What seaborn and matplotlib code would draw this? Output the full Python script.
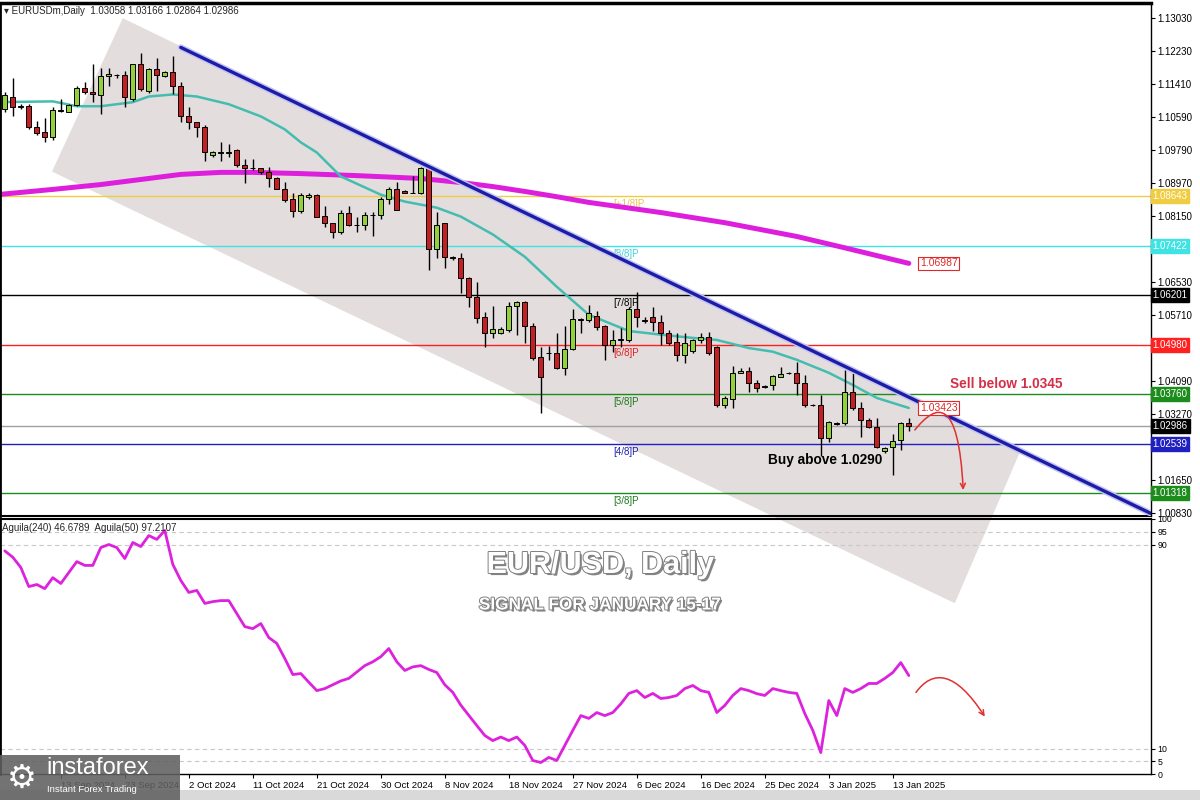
"""
EUR/USD daily chart: candles, Murrey Math levels, two moving averages,
a falling channel and the Aguila oscillator pane underneath.
"""
import matplotlib
matplotlib.use("Agg")
import matplotlib.pyplot as plt
import matplotlib.patheffects as pe
from matplotlib.patches import Polygon, Rectangle, FancyArrowPatch
from matplotlib.path import Path
import numpy as np
import seaborn as sns

# one candle per daily bar (broker has Sunday bars), last bar = 15 Jan 2025
opens = [1.1078, 1.1110, 1.1083, 1.1086, 1.1036, 1.1022, 1.1009, 1.1076, 1.1073, 1.1088,
         1.1130, 1.1122, 1.1113, 1.1160, 1.1163, 1.1162, 1.1105, 1.1189, 1.1123, 1.1177,
         1.1160, 1.1170, 1.1137, 1.1063, 1.1046, 1.1036, 1.0965, 1.0972, 1.0971, 1.0977,
         1.0942, 1.0935, 1.0933, 1.0923, 1.0910, 1.0883, 1.0858, 1.0827, 1.0862, 1.0868,
         1.0816, 1.0797, 1.0777, 1.0824, 1.0794, 1.0794, 1.0819, 1.0819, 1.0858, 1.0883,
         1.0878, 1.0873, 1.0873, 1.0935, 1.0733, 1.0797, 1.0715, 1.0713, 1.0663, 1.0616,
         1.0567, 1.0528, 1.0528, 1.0535, 1.0594, 1.0604, 1.0545, 1.0468, 1.0478, 1.0478,
         1.0441, 1.0488, 1.0561, 1.0560, 1.0570, 1.0545, 1.0498, 1.0510, 1.0510, 1.0587,
         1.0560, 1.0567, 1.0555, 1.0528, 1.0505, 1.0473, 1.0483, 1.0510, 1.0518, 1.0493,
         1.0350, 1.0365, 1.0429, 1.0434, 1.0404, 1.0396, 1.0399, 1.0419, 1.0429, 1.0429,
         1.0404, 1.0350, 1.0350, 1.0268, 1.0305, 1.0305, 1.0382, 1.0342, 1.0313, 1.0295,
         1.0236, 1.0246, 1.0263, 1.03058]
highs = [1.1120, 1.1156, 1.1091, 1.1091, 1.1049, 1.1056, 1.1083, 1.1103, 1.1091, 1.1135,
         1.1145, 1.1189, 1.1180, 1.1180, 1.1165, 1.1172, 1.1191, 1.1217, 1.1180, 1.1204,
         1.1172, 1.1209, 1.1145, 1.1083, 1.1048, 1.1039, 1.0975, 1.0997, 1.0994, 1.0980,
         1.0955, 1.0955, 1.0935, 1.0937, 1.0911, 1.0900, 1.0873, 1.0873, 1.0871, 1.0870,
         1.0839, 1.0798, 1.0831, 1.0839, 1.0812, 1.0826, 1.0826, 1.0863, 1.0886, 1.0900,
         1.0880, 1.0913, 1.0937, 1.0938, 1.0826, 1.0799, 1.0718, 1.0725, 1.0665, 1.0653,
         1.0579, 1.0594, 1.0542, 1.0604, 1.0606, 1.0606, 1.0552, 1.0493, 1.0495, 1.0528,
         1.0545, 1.0587, 1.0564, 1.0597, 1.0582, 1.0546, 1.0535, 1.0540, 1.0590, 1.0629,
         1.0567, 1.0592, 1.0572, 1.0535, 1.0528, 1.0528, 1.0512, 1.0528, 1.0530, 1.0495,
         1.0372, 1.0446, 1.0440, 1.0444, 1.0411, 1.0399, 1.0424, 1.0444, 1.0431, 1.0456,
         1.0424, 1.0352, 1.0374, 1.0309, 1.0307, 1.0436, 1.0431, 1.0357, 1.0318, 1.0318,
         1.0246, 1.0278, 1.0307, 1.03166]
lows = [1.1073, 1.1063, 1.1078, 1.1029, 1.1016, 1.0999, 1.1004, 1.1071, 1.1071, 1.1086,
        1.1115, 1.1096, 1.1066, 1.1135, 1.1156, 1.1083, 1.1098, 1.1123, 1.1118, 1.1123,
        1.1157, 1.1115, 1.1046, 1.1031, 1.1009, 1.0952, 1.0962, 1.0952, 1.0962, 1.0937,
        1.0898, 1.0930, 1.0920, 1.0888, 1.0881, 1.0851, 1.0812, 1.0824, 1.0858, 1.0812,
        1.0789, 1.0762, 1.0772, 1.0792, 1.0777, 1.0782, 1.0767, 1.0807, 1.0844, 1.0830,
        1.0871, 1.0871, 1.0869, 1.0683, 1.0713, 1.0688, 1.0708, 1.0626, 1.0592, 1.0552,
        1.0493, 1.0515, 1.0525, 1.0530, 1.0523, 1.0503, 1.0461, 1.0330, 1.0461, 1.0439,
        1.0424, 1.0486, 1.0528, 1.0555, 1.0535, 1.0461, 1.0481, 1.0493, 1.0505, 1.0542,
        1.0552, 1.0532, 1.0498, 1.0498, 1.0458, 1.0453, 1.0478, 1.0503, 1.0473, 1.0345,
        1.0342, 1.0342, 1.0428, 1.0382, 1.0382, 1.0392, 1.0387, 1.0418, 1.0426, 1.0374,
        1.0345, 1.0347, 1.0224, 1.0258, 1.0301, 1.0300, 1.0337, 1.0271, 1.0293, 1.0243,
        1.0231, 1.0177, 1.0239, 1.02864]
closes = [1.1113, 1.1083, 1.1086, 1.1034, 1.1019, 1.1009, 1.1076, 1.1074, 1.1088, 1.1130,
          1.1120, 1.1115, 1.1160, 1.1165, 1.1162, 1.1110, 1.1189, 1.1128, 1.1177, 1.1162,
          1.1170, 1.1135, 1.1063, 1.1046, 1.1036, 1.0972, 1.0972, 1.0971, 1.0974, 1.0940,
          1.0935, 1.0934, 1.0923, 1.0910, 1.0883, 1.0856, 1.0827, 1.0868, 1.0868, 1.0814,
          1.0797, 1.0777, 1.0824, 1.0794, 1.0793, 1.0819, 1.0818, 1.0858, 1.0883, 1.0831,
          1.0873, 1.0872, 1.0935, 1.0733, 1.0794, 1.0715, 1.0713, 1.0663, 1.0616, 1.0565,
          1.0528, 1.0537, 1.0537, 1.0594, 1.0604, 1.0545, 1.0466, 1.0419, 1.0477, 1.0441,
          1.0488, 1.0562, 1.0559, 1.0577, 1.0542, 1.0498, 1.0510, 1.0512, 1.0587, 1.0567,
          1.0557, 1.0555, 1.0528, 1.0503, 1.0473, 1.0503, 1.0510, 1.0518, 1.0478, 1.0350,
          1.0367, 1.0429, 1.0434, 1.0404, 1.0392, 1.0395, 1.0421, 1.0426, 1.0428, 1.0404,
          1.0350, 1.0349, 1.0268, 1.0308, 1.0303, 1.0382, 1.0342, 1.0313, 1.0295, 1.0246,
          1.0243, 1.0261, 1.0305, 1.02986]

# fast moving average (teal) at a few bars
ma_fast_bars = [-1, 6, 9, 12, 16, 18, 21, 24, 28, 32, 35, 37, 39, 42, 47, 50, 54,
                57, 61, 65, 69, 73, 78, 82, 86, 89, 93, 96, 99, 103, 106, 109, 113]
ma_fast = [1.1096, 1.1098, 1.1086, 1.1086, 1.1096, 1.1110, 1.1115, 1.1110, 1.1091,
           1.1061, 1.1029, 1.0997, 1.0972, 1.0913, 1.0868, 1.0851, 1.0836, 1.0814,
           1.0770, 1.0715, 1.0641, 1.0572, 1.0532, 1.0523, 1.0515, 1.0510, 1.0490,
           1.0481, 1.0461, 1.0429, 1.0399, 1.0367, 1.03423]

# slow moving average (magenta)
ma_slow_bars = [-1, 6, 12, 18, 22, 27, 31, 37, 44, 52, 57, 61, 65, 69, 73, 82, 90,
                99, 105, 113]
ma_slow = [1.0868, 1.0881, 1.0893, 1.0908, 1.0918, 1.0923, 1.0923, 1.0920, 1.0915,
           1.0908, 1.0898, 1.0888, 1.0876, 1.0863, 1.0849, 1.0824, 1.0799, 1.0765,
           1.0737, 1.06987]

# Murrey Math levels
mm_names = ["[+1/8]P", "[8/8]P", "[7/8]P", "[6/8]P", "[5/8]P", "[4/8]P", "[3/8]P"]
mm_levels = [1.08643, 1.07422, 1.06201, 1.04980, 1.03760, 1.02539, 1.01318]

# downtrend line and channel corners (bar, price)
trend_bars = [22, 143.5]
trend_prices = [1.1231, 1.0080]
channel_bars = [14.75, 126.9, 118.75, 5.9]
channel_prices = [1.1303, 1.0234, 0.9861, 1.0925]

# Aguila(50) oscillator, one value per bar
aguila = [87.5, 85.0, 81.0, 73.5, 74.3, 72.7, 77.0, 74.7, 79.0, 83.3,
          81.8, 81.8, 88.8, 90.0, 88.8, 84.5, 90.8, 89.2, 93.5, 92.0,
          95.5, 82.2, 75.9, 71.2, 72.0, 66.9, 67.6, 68.0, 68.0, 62.9,
          57.8, 57.0, 59.0, 53.5, 51.2, 45.3, 39.0, 39.4, 36.0, 32.7,
          33.5, 35.0, 36.5, 37.5, 40.0, 42.5, 44.0, 46.0, 49.2, 44.0,
          40.6, 42.0, 42.5, 41.0, 39.8, 35.0, 32.0, 27.0, 23.0, 19.0,
          15.1, 13.1, 14.5, 13.1, 14.5, 11.2, 5.3, 4.5, 6.5, 5.3,
          11.2, 17.1, 22.9, 21.8, 24.1, 22.9, 24.1, 27.5, 31.6, 32.7,
          30.0, 31.6, 29.6, 30.0, 30.8, 33.5, 34.7, 32.7, 32.0, 24.1,
          26.9, 30.8, 33.5, 32.7, 31.5, 30.8, 33.5, 32.7, 32.0, 31.6,
          23.7, 17.1, 8.4, 28.8, 22.9, 33.5, 32.0, 33.5, 35.5, 35.5,
          37.5, 39.8, 43.7, 38.6]
aguila_levels = [95, 90, 10, 5]

# scale labels that are not hidden behind the level tags
price_ticks = [1.13030, 1.12230, 1.11410, 1.10590, 1.09790, 1.08970, 1.08150,
               1.06530, 1.05710, 1.04090, 1.03270, 1.01650, 1.00830]
date_labels = ["13 Sep 2024", "23 Sep 2024", "2 Oct 2024", "11 Oct 2024", "21 Oct 2024",
               "30 Oct 2024", "8 Nov 2024", "18 Nov 2024", "27 Nov 2024", "6 Dec 2024",
               "16 Dec 2024", "25 Dec 2024", "3 Jan 2025", "13 Jan 2025"]

UP = "#93d13c"
DOWN = "#c41f22"
MM_COLORS = ["#f0cc40", "#3fe3e3", "#000000", "#ff2020", "#1c8c1c", "#2020c0", "#1c8c1c"]
MM_TEXT = ["#e6c44a", "#40d4dc", "#000000", "#e02020", "#1c7a1c", "#2020b0", "#1c7a1c"]

sns.set_style("white")
plt.rcParams["font.family"] = ["Liberation Sans", "DejaVu Sans"]

fig = plt.figure(figsize=(12, 8), dpi=100)
ax = fig.add_axes([0.0, 0.355, 0.959, 0.641])
ind = fig.add_axes([0.0, 0.0325, 0.959, 0.31875])
for a in (ax, ind):
    a.patch.set_alpha(0)

bars = np.arange(len(closes))
o = np.array(opens)
c = np.array(closes)
xlim = (-0.6, 143.25)

# ---- price pane ----
ax.add_patch(Polygon(np.column_stack([channel_bars, channel_prices]), closed=True,
                     fc="#e4dddd", ec="none", zorder=0, clip_on=False))

for lvl, col in zip(mm_levels, MM_COLORS):
    ax.axhline(lvl, color=col, lw=1, zorder=1)
ax.axhline(closes[-1], color="#a0a0a0", lw=1, zorder=1)

for name, lvl, col in zip(mm_names, mm_levels, MM_TEXT):
    ax.annotate(name, (76, lvl), xytext=(0, -2), textcoords="offset points",
                ha="left", va="top", fontsize=7, color=col, zorder=2)

sns.lineplot(x=ma_slow_bars, y=ma_slow, ax=ax, color="#dd1fdd", lw=3.6, zorder=2)
sns.lineplot(x=ma_fast_bars, y=ma_fast, ax=ax, color="#45bcb0", lw=1.8, zorder=2)

ax.vlines(bars, lows, highs, color="black", lw=1, zorder=3)
body = np.maximum(np.abs(c - o), 0.00004)
ax.bar(bars, body, bottom=np.minimum(o, c), width=0.62,
       color=np.where(c >= o, UP, DOWN), edgecolor="black", linewidth=0.7, zorder=4)

sns.lineplot(x=trend_bars, y=trend_prices, ax=ax, color="#1c1ca6", lw=2.4, zorder=5,
             path_effects=[pe.Stroke(linewidth=4.5, foreground="#c4c4f2"), pe.Normal()])

# value tags at the end of the averages
for val in (ma_slow[-1], ma_fast[-1]):
    ax.text(114.4, val, f"{val:.5f}", ha="left", va="center", fontsize=7.5,
            color="#e02828", zorder=6,
            bbox=dict(boxstyle="square,pad=0.15", fc="white", ec="#e02828", lw=0.8))

# price tags on the right scale
tags = list(zip(mm_levels, MM_COLORS)) + [(closes[-1], "#000000")]
for val, col in tags:
    ax.text(1.0015, val, f"{val:.5f}", transform=ax.get_yaxis_transform(),
            ha="left", va="center", fontsize=7, color="white", zorder=10,
            bbox=dict(boxstyle="square,pad=0.2", fc=col, ec=col))

ax.text(118.1, 1.0402, "Sell below 1.0345", fontsize=9.8, fontweight="bold",
        color="#d42f48", ha="left", va="center", zorder=6)
ax.text(95.4, 1.0214, "Buy above 1.0290", fontsize=9.8, fontweight="bold",
        color="black", ha="left", va="center", zorder=6)

sell_path = Path([(113.75, 1.0288), (116.5, 1.0355), (119.2, 1.0370), (119.8, 1.0140)],
                 [Path.MOVETO, Path.CURVE4, Path.CURVE4, Path.CURVE4])
ax.add_patch(FancyArrowPatch(path=sell_path, arrowstyle="->", mutation_scale=9,
                             color="#e03030", lw=1.1, zorder=6))

ax.set_xlim(xlim)
ax.set_ylim(1.0076, 1.1340)
ax.set_xticks([])
ax.yaxis.tick_right()
ax.set_yticks(price_ticks)
ax.set_yticklabels([f"{t:.5f}" for t in price_ticks])
ax.tick_params(axis="y", right=True, left=False, direction="out", length=3,
               width=0.8, labelsize=7, pad=2, colors="black")
for side, w in (("top", 2.5), ("left", 2), ("right", 1), ("bottom", 1.5)):
    ax.spines[side].set_linewidth(w)
    ax.spines[side].set_color("black")

# ---- oscillator pane ----
for lvl in aguila_levels:
    ind.axhline(lvl, color="#c8c8c8", lw=0.8, ls=(0, (4, 3)), zorder=1)
sns.lineplot(x=bars, y=aguila, ax=ind, color="#dd22dd", lw=2, zorder=3)

ind_path = Path([(113.9, 32.0), (116.0, 41.0), (118.8, 40.5), (122.5, 22.5)],
                [Path.MOVETO, Path.CURVE4, Path.CURVE4, Path.CURVE4])
ind.add_patch(FancyArrowPatch(path=ind_path, arrowstyle="->", mutation_scale=9,
                              color="#e03030", lw=1.1, zorder=4))

ind.text(0.002, 0.985, "Aguila(240) 46.6789  Aguila(50) 97.2107",
         transform=ind.transAxes, ha="left", va="top", fontsize=7)

ind.set_xlim(xlim)
ind.set_ylim(0, 100)
ind.set_ylabel("")
ind.yaxis.tick_right()
ind.set_yticks([0, 5, 10, 90, 95, 100])
ind.set_xticks(np.arange(7, len(closes), 8))
ind.set_xticklabels(date_labels, ha="left")
ind.tick_params(axis="y", right=True, left=False, direction="out", length=3,
                width=0.8, labelsize=6.3, pad=2, colors="black")
ind.tick_params(axis="x", bottom=True, direction="out", length=3, width=0.8,
                labelsize=6.8, pad=2, colors="black")
for side, w in (("top", 1.5), ("left", 2), ("right", 1), ("bottom", 1)):
    ind.spines[side].set_linewidth(w)
    ind.spines[side].set_color("black")
ax.set_ylabel("")

# ---- header, title block, logo ----
fig.text(0.003, 1 - 11 / 800, "\u25be EURUSDm,Daily  1.03058 1.03166 1.02864 1.02986",
         fontsize=7, va="center", ha="left")

shadow = [pe.SimplePatchShadow(offset=(1.5, -1.5), shadow_rgbFace="#333333", alpha=0.6),
          pe.Stroke(linewidth=1.4, foreground="#808080"), pe.Normal()]
fig.text(0.5, 1 - 565 / 800, "EUR/USD, Daily", ha="center", va="center",
         fontsize=22, fontweight="bold", color="white", path_effects=shadow)
fig.text(0.5, 1 - 605 / 800, "SIGNAL FOR JANUARY 15-17", ha="center", va="center",
         fontsize=12.4, fontweight="bold", color="white", path_effects=shadow)

fig.patches.append(Rectangle((0, 0), 1, 10 / 800, transform=fig.transFigure,
                             fc="#d9d9d9", ec="none", zorder=1))
fig.patches.append(Rectangle((0, 0), 180 / 1200, 45 / 800, transform=fig.transFigure,
                             fc="#606060", ec="none", alpha=0.88, zorder=2))
fig.text(22 / 1200, 1 - 778 / 800, "\u2699", fontsize=24, color="white",
         ha="center", va="center", family="DejaVu Sans", zorder=3)
fig.text(46 / 1200, 1 - 768 / 800, "instaforex", fontsize=17, color="white",
         ha="left", va="center", zorder=3)
fig.text(47 / 1200, 1 - 790 / 800, "Instant Forex Trading", fontsize=6.8,
         color="white", ha="left", va="center", zorder=3)

fig.savefig("out.png", dpi=100, facecolor="white")
